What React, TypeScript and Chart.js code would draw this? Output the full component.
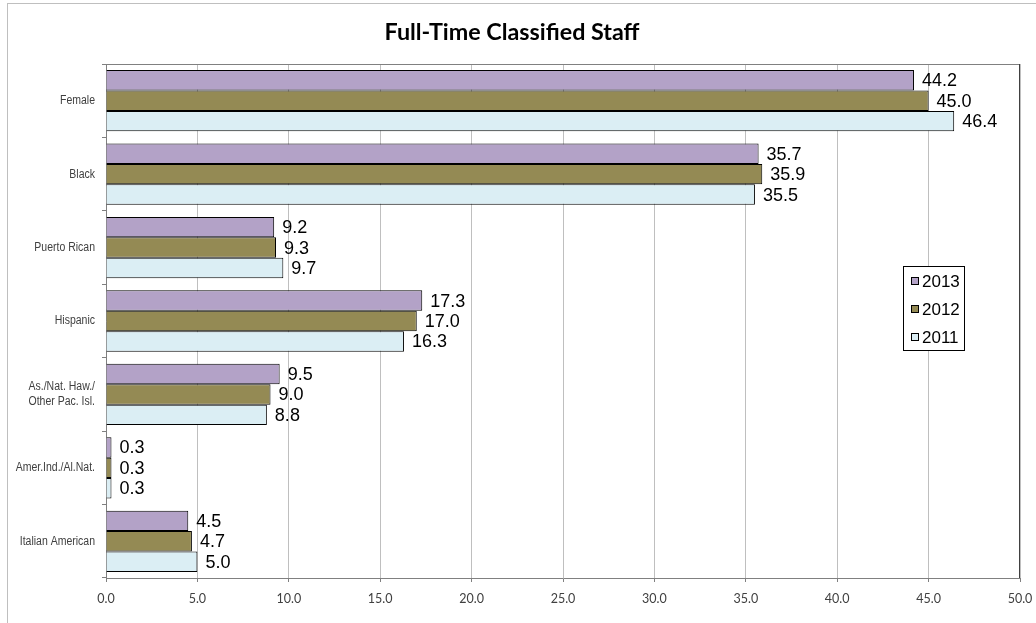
import React, { useEffect, useRef } from "react";
import { Chart, registerables } from "chart.js";

Chart.register(...registerables);

const categories: (string | string[])[] = [
  "Female",
  "Black",
  "Puerto Rican",
  "Hispanic",
  ["As./Nat. Haw./", "Other Pac. Isl."],
  "Amer.Ind./Al.Nat.",
  "Italian American",
];
const values2013 = [44.2, 35.7, 9.2, 17.3, 9.5, 0.3, 4.5];
const values2012 = [45.0, 35.9, 9.3, 17.0, 9.0, 0.3, 4.7];
const values2011 = [46.4, 35.5, 9.7, 16.3, 8.8, 0.3, 5.0];
const seriesLabels = ["2013", "2012", "2011"];
const seriesColors = ["#B3A2C7", "#948A54", "#DBEEF4"];
const titleText = "Full-Time Classified Staff";

const framePlugin = {
  id: "frame",
  beforeDraw(chart: any) {
    const ctx = chart.ctx;
    ctx.save();
    ctx.fillStyle = "#ffffff";
    ctx.fillRect(0, 0, chart.width, chart.height);
    ctx.strokeStyle = "#BFBFBF";
    ctx.lineWidth = 1;
    ctx.strokeRect(7.5, 3.5, chart.width + 20, chart.height + 20);
    ctx.restore();
  },
  afterDraw(chart: any) {
    const ctx = chart.ctx;
    const a = chart.chartArea;
    ctx.save();
    // plot border
    ctx.strokeStyle = "#808080";
    ctx.lineWidth = 1;
    ctx.beginPath();
    ctx.moveTo(a.left, a.top + 0.5);
    ctx.lineTo(a.right, a.top + 0.5);
    ctx.stroke();
    ctx.strokeStyle = "#404040";
    ctx.beginPath();
    ctx.moveTo(a.right - 0.5, a.top);
    ctx.lineTo(a.right - 0.5, a.bottom);
    ctx.stroke();

    // title
    ctx.fillStyle = "#000000";
    ctx.font = "bold 23.3px Lato, 'Open Sans', sans-serif";
    ctx.textAlign = "center";
    ctx.textBaseline = "alphabetic";
    ctx.fillText(titleText, 512, 40);

    // category labels (condensed)
    const yScale = chart.scales.y;
    ctx.fillStyle = "#404040";
    ctx.font = "12.5px 'Liberation Sans', Arial, sans-serif";
    ctx.textAlign = "right";
    ctx.textBaseline = "middle";
    categories.forEach((lab, i) => {
      const lines = Array.isArray(lab) ? lab : [lab];
      const cy = yScale.getPixelForValue(i);
      const lh = 15;
      lines.forEach((ln, j) => {
        const yy = cy + (j - (lines.length - 1) / 2) * lh;
        ctx.save();
        ctx.translate(a.left - 11, yy);
        ctx.scale(0.84, 1);
        ctx.fillText(ln, 0, 0);
        ctx.restore();
      });
    });

    // data labels
    ctx.fillStyle = "#000000";
    ctx.font = "18px 'Liberation Sans', Arial, sans-serif";
    ctx.textAlign = "left";
    ctx.textBaseline = "middle";
    chart.data.datasets.forEach((ds: any, di: number) => {
      const meta = chart.getDatasetMeta(di);
      meta.data.forEach((el: any, i: number) => {
        ctx.fillText(Number(ds.data[i]).toFixed(1), el.x + 8, el.y + 1);
      });
    });

    // legend
    const lx = 903, ly = 266, lw = 61, lh = 84;
    ctx.fillStyle = "#ffffff";
    ctx.fillRect(lx, ly, lw, lh);
    ctx.strokeStyle = "#000000";
    ctx.strokeRect(lx + 0.5, ly + 0.5, lw, lh);
    ctx.font = "17px 'Liberation Sans', Arial, sans-serif";
    chart.data.datasets.forEach((ds: any, di: number) => {
      const cy = ly + 15 + di * 28;
      ctx.fillStyle = ds.backgroundColor;
      ctx.fillRect(lx + 8, cy - 4, 8, 8);
      ctx.strokeStyle = "#000000";
      ctx.strokeRect(lx + 8.5, cy - 3.5, 7, 7);
      ctx.fillStyle = "#000000";
      ctx.textBaseline = "middle";
      ctx.fillText(ds.label, lx + 19, cy + 1);
    });
    ctx.restore();
  },
};

export default function App() {
  const ref = useRef<HTMLCanvasElement>(null);
  useEffect(() => {
    if (!ref.current) return;
    const chart = new Chart(ref.current, {
      type: "bar",
      data: {
        labels: categories as any,
        datasets: [values2013, values2012, values2011].map((d, i) => ({
          label: seriesLabels[i],
          data: d,
          backgroundColor: seriesColors[i],
          borderColor: "#000000",
          borderWidth: 1,
          categoryPercentage: 0.835,
          barPercentage: 1.0,
        })),
      },
      options: {
        indexAxis: "y",
        animation: false,
        responsive: false,
        maintainAspectRatio: false,
        layout: { padding: { top: 64, right: 16, left: 0, bottom: 0 } },
        plugins: {
          legend: { display: false },
          title: { display: false },
          tooltip: { enabled: false },
        },
        scales: {
          x: {
            min: 0,
            max: 50,
            ticks: {
              stepSize: 5,
              callback: (v: any) => Number(v).toFixed(1),
              color: "#404040",
              font: { family: "Lato, 'Open Sans', sans-serif", size: 12.5 },
              padding: 9,
            },
            grid: { color: "#BFBFBF", tickLength: 4, tickColor: "#808080" },
            border: { color: "#808080" },
            afterFit: (s: any) => {
              s.height = 45;
              s.paddingLeft = 0;
              s.paddingRight = 0;
            },
          },
          y: {
            ticks: { display: false },
            grid: {
              drawOnChartArea: false,
              drawTicks: true,
              tickLength: 4,
              tickColor: "#808080",
              offset: true,
            },
            border: { color: "#808080" },
            afterFit: (s: any) => {
              s.width = 106;
              s.paddingTop = 0;
              s.paddingBottom = 0;
            },
          },
        },
      },
      plugins: [framePlugin],
    });
    return () => chart.destroy();
  }, []);
  return (
    <div style={{ position: "fixed", left: 0, top: 0, width: 1036, height: 623 }}>
      <canvas ref={ref} width={1036} height={623} style={{ width: 1036, height: 623 }} />
    </div>
  );
}
